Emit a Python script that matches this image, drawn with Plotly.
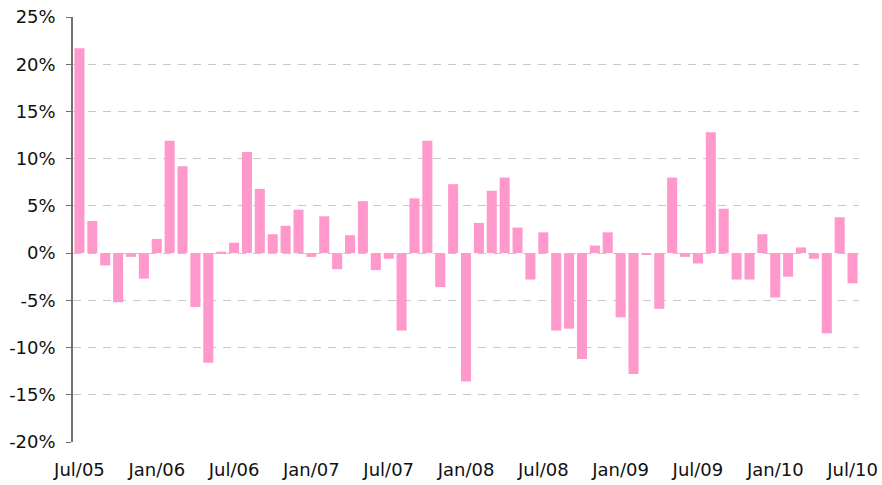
import plotly.graph_objects as go

months = [
    "Jul/05", "Aug/05", "Sep/05", "Oct/05", "Nov/05", "Dec/05",
    "Jan/06", "Feb/06", "Mar/06", "Apr/06", "May/06", "Jun/06",
    "Jul/06", "Aug/06", "Sep/06", "Oct/06", "Nov/06", "Dec/06",
    "Jan/07", "Feb/07", "Mar/07", "Apr/07", "May/07", "Jun/07",
    "Jul/07", "Aug/07", "Sep/07", "Oct/07", "Nov/07", "Dec/07",
    "Jan/08", "Feb/08", "Mar/08", "Apr/08", "May/08", "Jun/08",
    "Jul/08", "Aug/08", "Sep/08", "Oct/08", "Nov/08", "Dec/08",
    "Jan/09", "Feb/09", "Mar/09", "Apr/09", "May/09", "Jun/09",
    "Jul/09", "Aug/09", "Sep/09", "Oct/09", "Nov/09", "Dec/09",
    "Jan/10", "Feb/10", "Mar/10", "Apr/10", "May/10", "Jun/10",
    "Jul/10",
]

returns_pct = [
    21.7, 3.4, -1.3, -5.2, -0.4, -2.7,
    1.5, 11.9, 9.2, -5.7, -11.6, 0.15,
    1.1, 10.7, 6.8, 2.0, 2.9, 4.6,
    -0.4, 3.9, -1.7, 1.9, 5.5, -1.8,
    -0.6, -8.2, 5.8, 11.9, -3.6, 7.3,
    -13.6, 3.2, 6.6, 8.0, 2.7, -2.8,
    2.2, -8.2, -8.0, -11.2, 0.8, 2.2,
    -6.8, -12.8, -0.15, -5.9, 8.0, -0.4,
    -1.1, 12.8, 4.7, -2.8, -2.8, 2.0,
    -4.7, -2.5, 0.6, -0.6, -8.5, 3.8,
    -3.2,
]

x_tick_labels = ["Jul/05", "Jan/06", "Jul/06", "Jan/07", "Jul/07", "Jan/08",
                 "Jul/08", "Jan/09", "Jul/09", "Jan/10", "Jul/10"]

y_tick_values = [-20, -15, -10, -5, 0, 5, 10, 15, 20, 25]
y_tick_labels = ["-20%", "-15%", "-10%", "-5%", "0%", "5%", "10%", "15%", "20%", "25%"]

y_min, y_max = -20, 25
n = len(months)

fig = go.Figure()
fig.add_trace(go.Bar(
    x=months, y=returns_pct,
    marker=dict(color="#FF99CC", line=dict(width=0)),
    showlegend=False,
))

font = dict(family="DejaVu Sans", size=18, color="#111111")

fig.update_layout(
    width=882, height=485,
    margin=dict(l=73, r=23, t=17, b=43),
    paper_bgcolor="white", plot_bgcolor="white",
    bargap=0.22,
    font=font,
    xaxis=dict(
        type="category",
        categoryorder="array", categoryarray=months,
        range=[-0.5, n - 0.5],
        tickvals=x_tick_labels, ticktext=x_tick_labels,
        ticks="", showline=False, showgrid=False, zeroline=False,
        ticklabelstandoff=15,
        ticklabeloverflow="allow",
        tickfont=font,
        automargin=False,
    ),
    xaxis2=dict(
        type="linear", overlaying="x", anchor="free",
        position=(0 - y_min) / (y_max - y_min),
        range=[-0.5, n - 0.5],
        tickvals=[i - 0.5 for i in range(0, n, 6)],
        ticks="outside", ticklen=5, tickwidth=1.5, tickcolor="#000000",
        showticklabels=False, showline=True, linecolor="#000000", linewidth=2,
        showgrid=False, zeroline=False,
        automargin=False,
    ),
    yaxis=dict(
        range=[y_min, y_max],
        tickvals=y_tick_values, ticktext=y_tick_labels,
        showgrid=True, gridcolor="#c8c8c8", gridwidth=1, griddash="8px,7px",
        zeroline=False,
        showline=True, linecolor="#707070", linewidth=1.5,
        ticks="outside", ticklen=5, tickcolor="#707070",
        ticklabelstandoff=7,
        ticklabeloverflow="allow",
        tickfont=font,
        automargin=False,
    ),
)

fig.write_html(
    "out.html",
    config={"displayModeBar": False},
    post_script="document.body.style.margin='0px';document.body.style.overflow='hidden';",
)
